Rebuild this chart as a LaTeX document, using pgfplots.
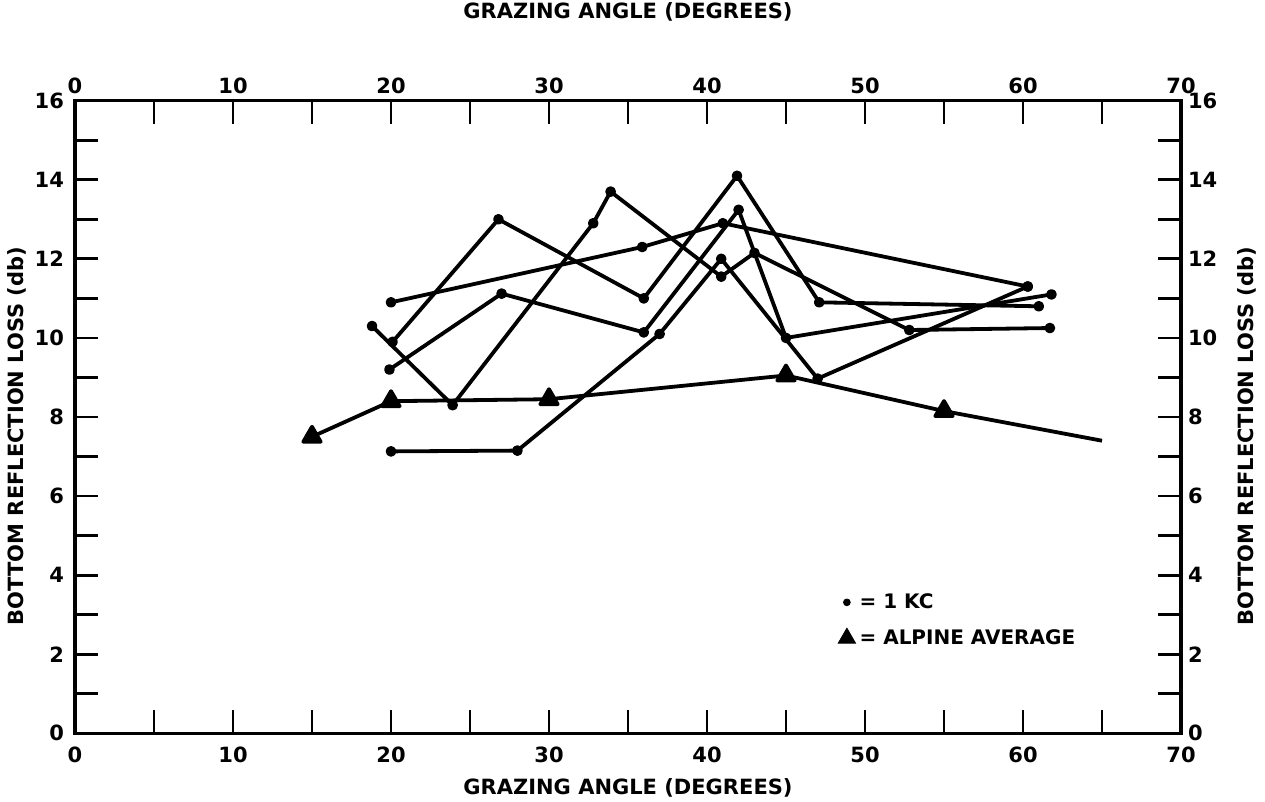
\documentclass[border=0pt]{standalone}
\usepackage{fontspec}
\setmainfont{DejaVu Sans}
\usepackage{pgfplots}
\pgfplotsset{compat=1.18}
\usetikzlibrary{calc}

\pgfplotsset{
  chart/.style={
    scale only axis, width=553pt, height=316.3pt,
    xmin=0, xmax=70, ymin=0, ymax=16,
    xtick={0,10,...,70}, minor xtick={5,15,...,65},
    ytick={0,2,...,16}, minor ytick={1,3,...,15},
    tick align=inside,
    major tick length=11.5pt, minor tick length=11.5pt,
    every tick/.style={black, line width=1.4pt},
    axis line style={line width=1.6pt},
    /pgf/number format/assume math mode=true,
    tick label style={font=\fontsize{10.5}{12}\selectfont\bfseries},
    label style={font=\fontsize{10.5}{13}\selectfont\bfseries},
    yticklabel style={xshift=-2pt},
  },
  kc/.style={black, line width=1.9pt, line join=round, mark=*, mark size=1.7pt, forget plot},
}

\begin{document}
\begin{tikzpicture}
\begin{axis}[chart,
  xticklabel style={yshift=-3.5pt},
  xlabel={GRAZING ANGLE (DEGREES)},
  ylabel={BOTTOM REFLECTION LOSS (db)},
  xlabel style={at={(axis description cs:0.5,-0.0856)}, anchor=center},
  ylabel style={at={(axis description cs:-0.0524,0.47)}, anchor=center},
  legend style={draw=none, fill=none, at={(axis cs:47.9,3.75)}, anchor=north west,
    font=\fontsize{10}{12}\selectfont\bfseries, row sep=5pt},
  legend cell align=left,
  legend image code/.code={\draw[#1] plot coordinates {(0pt,0pt)};},
]
\coordinate (sw) at (rel axis cs:0,0);
\coordinate (ne) at (rel axis cs:1,1);

% 1 KC runs
\addplot[kc] coordinates {(20,10.9) (35.9,12.3) (41,12.9) (60.3,11.3)};
\addplot[kc] coordinates {(20.1,9.9) (26.8,13.0) (36,11.0) (41.9,14.1) (47.1,10.9) (61,10.8)};
\addplot[kc] coordinates {(18.8,10.3) (23.9,8.3) (32.8,12.9) (33.9,13.7) (40.9,11.55) (43,12.15) (52.8,10.2) (61.7,10.25)};
\addplot[kc] coordinates {(20,7.13) (28,7.15) (37,10.1) (40.9,12.0) (47,8.97) (60.3,11.3)};
\addplot[kc] coordinates {(19.9,9.2) (27,11.12) (36,10.14) (42,13.24) (45,10.0) (61.8,11.1)};

% alpine average
\addplot[black, line width=1.9pt, line join=round, mark=triangle*, mark size=5pt,
  mark indices={1,2,3,4,5}, forget plot]
  coordinates {(15,7.5) (20,8.4) (30,8.45) (45,9.05) (55,8.15) (65,7.4)};

\addlegendimage{only marks, mark=*, mark size=1.7pt}
\addlegendentry{= 1 KC}
\addlegendimage{only marks, mark=triangle*, mark size=5pt}
\addlegendentry{= ALPINE AVERAGE}
\end{axis}

\begin{axis}[chart,
  xticklabel pos=upper, yticklabel pos=right,
  yticklabel style={xshift=2pt},
  xlabel={GRAZING ANGLE (DEGREES)},
  ylabel={BOTTOM REFLECTION LOSS (db)},
  xlabel style={at={(axis description cs:0.5,1.1403)}, anchor=center},
  ylabel style={at={(axis description cs:1.0597,0.47)}, anchor=center},
]
\end{axis}

\pgfresetboundingbox
\path[use as bounding box] ($(sw)+(-37.5pt,-33.85pt)$) rectangle ($(ne)+(42pt,50.35pt)$);
\end{tikzpicture}
\end{document}
